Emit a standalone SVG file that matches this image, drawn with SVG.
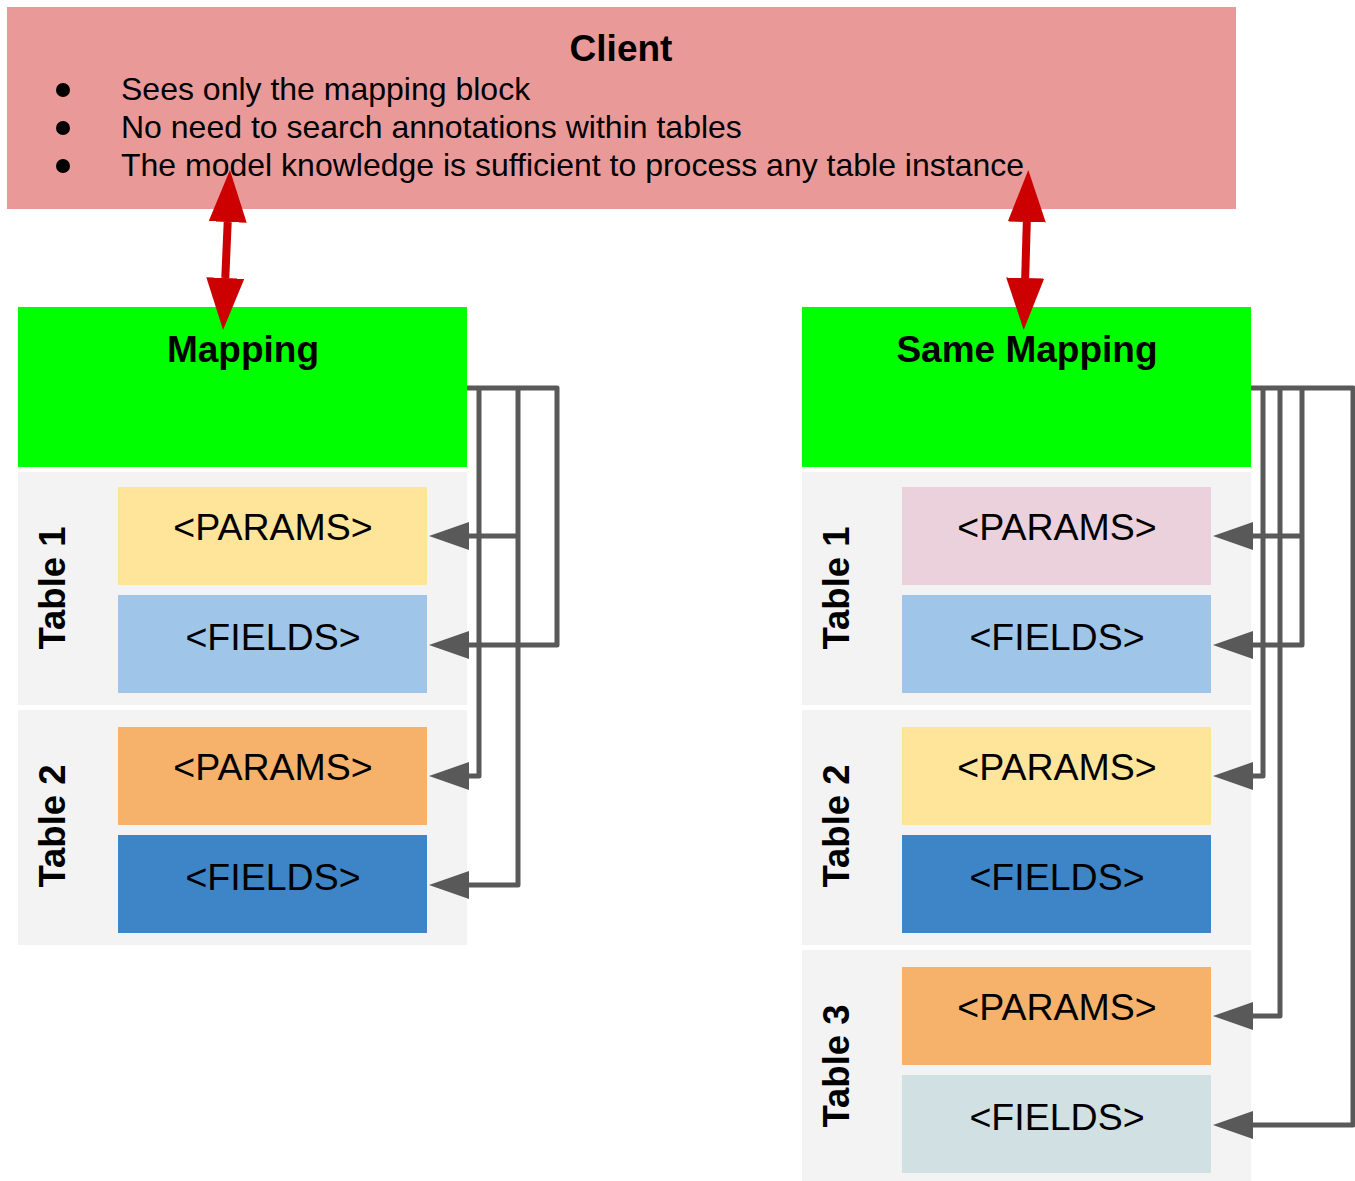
<svg xmlns="http://www.w3.org/2000/svg" width="1355" height="1181" viewBox="0 0 1355 1181">
  <defs>
    <style>
      .t { font-family: "Liberation Sans", Arial, sans-serif; fill: #000; }
      .title { font-size: 37px; font-weight: bold; text-anchor: middle; }
      .bullet { font-size: 32px; }
      .tag { font-size: 37.5px; text-anchor: middle; }
      .tbl { font-size: 36.5px; font-weight: bold; text-anchor: middle; }
      .link { fill: none; stroke: #595959; stroke-width: 5; stroke-linejoin: round; marker-end: url(#head); }
      .red { fill: none; stroke: #cc0000; stroke-width: 8; marker-start: url(#redhead); marker-end: url(#redhead); }
    </style>
    <marker id="head" markerUnits="userSpaceOnUse" viewBox="0 0 40 28" refX="0" refY="14" markerWidth="40" markerHeight="28" orient="auto">
      <path d="M0,0 L40,14 L0,28 Z" fill="#595959"/>
    </marker>
    <marker id="redhead" markerUnits="userSpaceOnUse" viewBox="0 0 52 38" refX="0" refY="19" markerWidth="52" markerHeight="38" orient="auto-start-reverse">
      <path d="M0,0 L52,19 L0,38 Z" fill="#cc0000"/>
    </marker>
  </defs>

  <rect width="1355" height="1181" fill="#ffffff"/>

  <!-- Client -->
  <g id="client">
    <rect x="7" y="7" width="1229" height="202" fill="#ea9999"/>
    <text class="t title" x="621" y="61">Client</text>
    <circle cx="63" cy="90" r="7" fill="#000"/>
    <circle cx="63" cy="128" r="7" fill="#000"/>
    <circle cx="63" cy="166" r="7" fill="#000"/>
    <text class="t bullet" x="121" y="100">Sees only the mapping block</text>
    <text class="t bullet" x="121" y="138">No need to search annotations within tables</text>
    <text class="t bullet" x="121" y="176">The model knowledge is sufficient to process any table instance</text>
  </g>

  <!-- Left side: Mapping with two tables -->
  <g id="mapping">
    <rect x="18" y="307" width="449" height="160" fill="#00ff00"/>
    <text class="t title" x="243" y="362">Mapping</text>
  </g>
  <g id="left-table1">
    <rect x="18" y="472" width="449" height="233" fill="#f3f3f3"/>
    <text class="t tbl" transform="translate(65,588) rotate(-90)">Table 1</text>
  </g>
  <g id="left-t1-params">
    <rect x="118" y="487" width="309" height="98" fill="#ffe599"/>
    <text class="t tag" x="273" y="540">&lt;PARAMS&gt;</text>
  </g>
  <g id="left-t1-fields">
    <rect x="118" y="595" width="309" height="98" fill="#9fc5e8"/>
    <text class="t tag" x="273" y="650">&lt;FIELDS&gt;</text>
  </g>
  <g id="left-table2">
    <rect x="18" y="710" width="449" height="235" fill="#f3f3f3"/>
    <text class="t tbl" transform="translate(65,826) rotate(-90)">Table 2</text>
  </g>
  <g id="left-t2-params">
    <rect x="118" y="727" width="309" height="98" fill="#f6b26b"/>
    <text class="t tag" x="273" y="780">&lt;PARAMS&gt;</text>
  </g>
  <g id="left-t2-fields">
    <rect x="118" y="835" width="309" height="98" fill="#3d85c6"/>
    <text class="t tag" x="273" y="890">&lt;FIELDS&gt;</text>
  </g>

  <!-- Right side: Same Mapping with three tables -->
  <g id="same-mapping">
    <rect x="802" y="307" width="449" height="160" fill="#00ff00"/>
    <text class="t title" x="1027" y="362">Same Mapping</text>
  </g>
  <g id="right-table1">
    <rect x="802" y="472" width="449" height="233" fill="#f3f3f3"/>
    <text class="t tbl" transform="translate(849,588) rotate(-90)">Table 1</text>
  </g>
  <g id="right-t1-params">
    <rect x="902" y="487" width="309" height="98" fill="#ead1dc"/>
    <text class="t tag" x="1057" y="540">&lt;PARAMS&gt;</text>
  </g>
  <g id="right-t1-fields">
    <rect x="902" y="595" width="309" height="98" fill="#9fc5e8"/>
    <text class="t tag" x="1057" y="650">&lt;FIELDS&gt;</text>
  </g>
  <g id="right-table2">
    <rect x="802" y="710" width="449" height="235" fill="#f3f3f3"/>
    <text class="t tbl" transform="translate(849,826) rotate(-90)">Table 2</text>
  </g>
  <g id="right-t2-params">
    <rect x="902" y="727" width="309" height="98" fill="#ffe599"/>
    <text class="t tag" x="1057" y="780">&lt;PARAMS&gt;</text>
  </g>
  <g id="right-t2-fields">
    <rect x="902" y="835" width="309" height="98" fill="#3d85c6"/>
    <text class="t tag" x="1057" y="890">&lt;FIELDS&gt;</text>
  </g>
  <g id="right-table3">
    <rect x="802" y="950" width="449" height="231" fill="#f3f3f3"/>
    <text class="t tbl" transform="translate(849,1066) rotate(-90)">Table 3</text>
  </g>
  <g id="right-t3-params">
    <rect x="902" y="967" width="309" height="98" fill="#f6b26b"/>
    <text class="t tag" x="1057" y="1020">&lt;PARAMS&gt;</text>
  </g>
  <g id="right-t3-fields">
    <rect x="902" y="1075" width="309" height="98" fill="#d0e0e3"/>
    <text class="t tag" x="1057" y="1130">&lt;FIELDS&gt;</text>
  </g>

  <!-- Connectors -->
  <g id="connectors">
    <!-- client <-> mappings -->
    <path class="red" d="M227.7,222 L225.3,278"/>
    <path class="red" d="M1026.8,222 L1025.2,278"/>

    <!-- left mapping -> tables -->
    <path class="link" d="M467,388 H557 V645 H469"/>
    <path class="link" d="M479,388 V776 H469"/>
    <path class="link" d="M518,388 V885 H469"/>
    <path class="link" d="M518,536 H469"/>

    <!-- right mapping -> tables -->
    <path class="link" d="M1251,388 H1353 V1125 H1253"/>
    <path class="link" d="M1263,388 V776 H1253"/>
    <path class="link" d="M1280,388 V1016 H1253"/>
    <path class="link" d="M1302,388 V645 H1253"/>
    <path class="link" d="M1302,536 H1253"/>
  </g>
</svg>
